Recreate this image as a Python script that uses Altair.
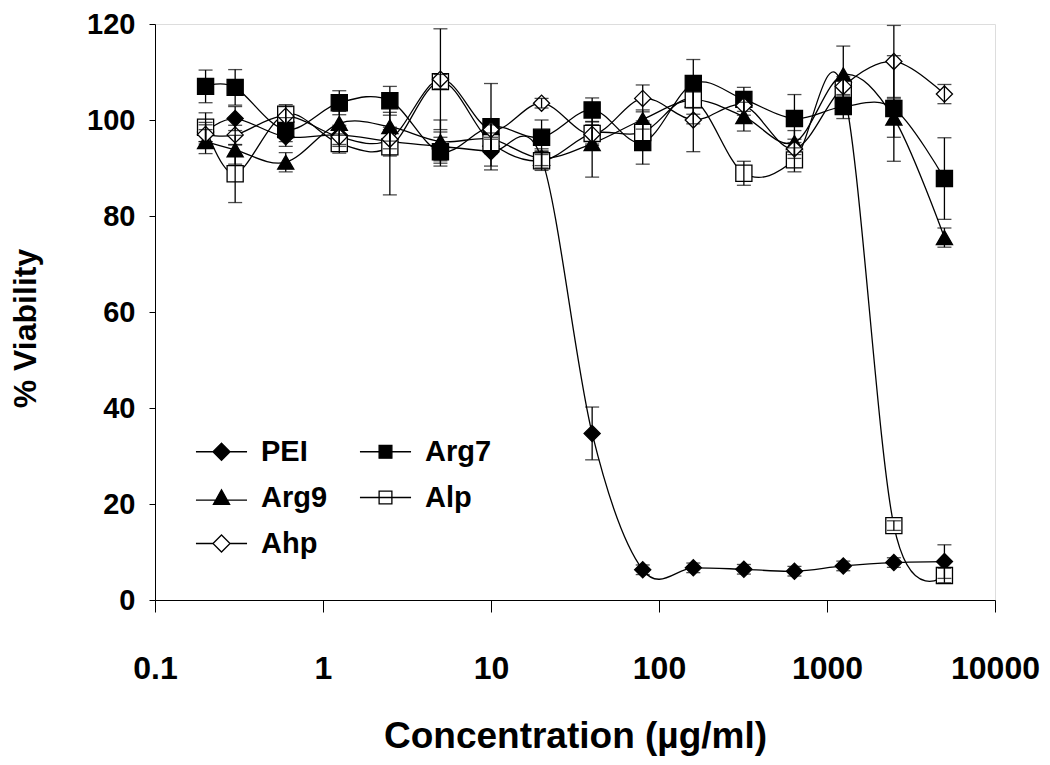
import altair as alt
import pandas as pd

conc = [0.2, 0.3, 0.6, 1.25, 2.5, 5, 10, 20, 40, 80, 160, 320, 640, 1250, 2500, 5000]

series_names = ["PEI", "Arg7", "Arg9", "Alp", "Ahp"]

pei = [97.5, 100.3, 96.5, 96.9, 95.5, 94.5, 93.4, 92.0, 34.7, 6.3, 6.7, 6.4, 6.0, 7.1, 7.8, 8.0]
arg7 = [107.0, 106.8, 98.0, 103.6, 104.0, 93.4, 98.6, 96.4, 102.1, 95.3, 107.6, 104.3, 100.3, 102.8, 102.4, 87.8]
arg9 = [95.5, 93.8, 91.2, 99.3, 98.6, 95.5, 96.0, 92.0, 95.1, 100.1, 104.2, 100.7, 95.3, 109.4, 100.4, 75.5]
alp = [98.5, 88.8, 101.2, 95.1, 94.4, 108.0, 95.3, 91.5, 97.2, 97.4, 104.2, 88.9, 91.7, 106.4, 15.5, 5.1]
ahp = [97.0, 96.9, 100.8, 96.5, 96.0, 108.5, 98.0, 103.5, 97.0, 104.5, 100.0, 103.0, 94.0, 107.0, 112.2, 105.4]

pei_err = [2.0, 2.5, 2.0, 2.0, 3.0, 3.0, 3.0, 1.5, 5.5, 1.0, 1.0, 1.0, 1.0, 1.0, 1.0, 3.5]
arg7_err = [3.4, 3.7, 2.5, 2.5, 3.0, 3.0, 9.0, 3.6, 2.5, 4.5, 5.0, 2.5, 5.0, 2.5, 11.0, 8.5]
arg9_err = [2.5, 3.0, 2.0, 2.5, 3.0, 4.5, 3.0, 2.0, 7.0, 2.0, 3.0, 3.0, 2.5, 6.0, 4.0, 2.0]
alp_err = [3.0, 6.0, 2.0, 2.0, 10.0, 1.5, 2.0, 2.0, 2.5, 2.0, 5.0, 2.5, 2.5, 2.0, 1.0, 1.5]
ahp_err = [2.0, 2.0, 2.0, 2.0, 2.0, 10.5, 2.0, 1.0, 2.0, 2.8, 6.6, 2.0, 2.0, 2.0, 7.5, 2.0]

values = [pei, arg7, arg9, alp, ahp]
errors = [pei_err, arg7_err, arg9_err, alp_err, ahp_err]

rows = []
for name, vals, errs in zip(series_names, values, errors):
    for c, v, e in zip(conc, vals, errs):
        rows.append({"conc": c, "value": v, "lo": v - e, "hi": v + e,
                     "series": name, "key": name})
df = pd.DataFrame(rows)

FONT = "Liberation Sans"

x_enc = alt.X("conc:Q",
              scale=alt.Scale(type="log", domain=[0.1, 10000]),
              axis=alt.Axis(values=[0.1, 1, 10, 100, 1000, 10000], format="~g",
                            title="Concentration (µg/ml)", grid=False,
                            domainColor="black", tickColor="black", tickSize=12,
                            labelFont=FONT, labelFontSize=32, labelFontWeight="bold",
                            labelColor="black", labelPadding=41, labelFlush=False,
                            titleFont=FONT, titleFontSize=37, titleFontWeight="bold",
                            titleColor="black", titleY=136, titleBaseline="middle"))
y_enc = alt.Y("value:Q",
              scale=alt.Scale(domain=[0, 120], nice=False),
              axis=alt.Axis(values=[0, 20, 40, 60, 80, 100, 120],
                            title="% Viability", grid=False,
                            domainColor="black", tickColor="black", tickSize=6,
                            labelFont=FONT, labelFontSize=29, labelFontWeight="bold",
                            labelColor="black", labelPadding=14,
                            titleFont=FONT, titleFontSize=32, titleFontWeight="bold",
                            titleColor="black", titleX=-130, titleY=304,
                            titleBaseline="middle"))

base = alt.Chart(df)

lines = base.mark_line(interpolate="cardinal", color="black", strokeWidth=1.3).encode(
    x=x_enc, y=y_enc, detail="series:N")

order = series_names
shapes = ["diamond", "square", "triangle-up", "square", "diamond"]
fills = ["black", "black", "black", "white", "white"]

points = base.mark_point(stroke="black", strokeWidth=1.3, opacity=1, size=260).encode(
    x="conc:Q", y="value:Q",
    shape=alt.Shape("series:N", scale=alt.Scale(domain=order, range=shapes), legend=None),
    fill=alt.Fill("series:N", scale=alt.Scale(domain=order, range=fills), legend=None),
)

err_rule = base.mark_rule(color="black", strokeWidth=1.3).encode(
    x="conc:Q", y="lo:Q", y2="hi:Q")

caps = base.transform_fold(["lo", "hi"], as_=["end", "endval"]).mark_tick(
    orient="horizontal", color="black", size=14, thickness=1.3).encode(
    x="conc:Q", y="endval:Q")

# legend laid out column-major: PEI, Arg9, Ahp | Arg7, Alp
leg_order = ["PEI", "Arg9", "Ahp", "Arg7", "Alp"]
leg_paths = {
    "PEI": "M-3,0H-1M1,0H3M-1,0L0,-1L1,0L0,1Z",
    "Arg7": "M-3,0H3M-0.75,-0.75H0.75V0.75H-0.75Z",
    "Arg9": "M-3,0.3H3M0,-0.9L0.95,0.8L-0.95,0.8Z",
    "Alp": "M-3,0H3M-0.75,-0.75H0.75V0.75H-0.75Z",
    "Ahp": "M-3,0H-1M1,0H3M-1,0L0,-1L1,0L0,1Z",
}
leg_fill = {"PEI": "black", "Arg7": "black", "Arg9": "black", "Alp": "white", "Ahp": "white"}


def make_legend():
    return alt.Legend(
        title=None, orient="none", legendX=52, legendY=413,
        columns=2, symbolSize=290, symbolOpacity=1,
        symbolStrokeColor="black", symbolStrokeWidth=1.3,
        labelFont=FONT, labelFontSize=29, labelFontWeight="bold",
        labelColor="black", labelOffset=25,
        columnPadding=29, rowPadding=16, symbolOffset=0,
        padding=0, labelLimit=300,
    )


leg_layer = base.mark_point(opacity=0, strokeWidth=1.3).encode(
    x="conc:Q", y="value:Q",
    shape=alt.Shape("key:N", scale=alt.Scale(domain=leg_order,
                                             range=[leg_paths[k] for k in leg_order]),
                    legend=make_legend()),
    fill=alt.Fill("key:N", scale=alt.Scale(domain=leg_order,
                                           range=[leg_fill[k] for k in leg_order]),
                  legend=make_legend()),
    stroke=alt.Stroke("key:N", scale=alt.Scale(domain=leg_order,
                                               range=["black"] * 5),
                      legend=make_legend()),
)

chart = alt.layer(lines, points, err_rule, caps, leg_layer).resolve_scale(
    shape="independent", fill="independent", stroke="independent"
).properties(
    width=840, height=576,
    autosize=alt.AutoSizeParams(type="none"),
    padding={"left": 147, "top": 16, "right": 47, "bottom": 160},
).configure_view(stroke=None).configure(background="white")

chart.save("out.html", embed_options={"renderer": "svg", "actions": False})
